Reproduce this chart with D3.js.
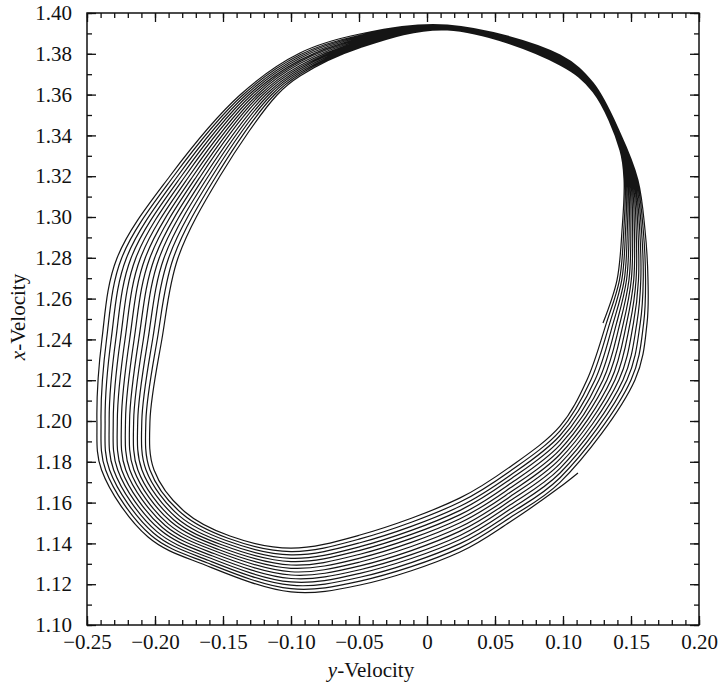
<!DOCTYPE html>
<html>
<head>
<meta charset="utf-8">
<script src="https://cdn.jsdelivr.net/npm/d3@7"></script>
<style>
  html, body { margin: 0; padding: 0; background: #fff; }
  svg { display: block; }
  text { font-family: "Liberation Serif", "Times New Roman", serif; fill: #111; }
</style>
</head>
<body>
<svg id="chart" width="722" height="688"></svg>
<script>
// ---------- axis ticks ----------
const xTickValues = [-0.25, -0.20, -0.15, -0.10, -0.05, 0, 0.05, 0.10, 0.15, 0.20];
const xTickLabels = ["\u22120.25", "\u22120.20", "\u22120.15", "\u22120.10", "\u22120.05", "0", "0.05", "0.10", "0.15", "0.20"];
const yTickValues = [1.10, 1.12, 1.14, 1.16, 1.18, 1.20, 1.22, 1.24, 1.26, 1.28, 1.30, 1.32, 1.34, 1.36, 1.38, 1.40];
const yTickLabels = ["1.10", "1.12", "1.14", "1.16", "1.18", "1.20", "1.22", "1.24", "1.26", "1.28", "1.30", "1.32", "1.34", "1.36", "1.38", "1.40"];

// ---------- trajectory readings ----------
// Each array lists where successive passes of the orbit cross a fixed cut,
// innermost pass first. "yv" = y-velocity (horizontal), "xv" = x-velocity (vertical).

// Upper / left / lower part of the orbit (passes 1..14)
const xvTop        = [1.3917, 1.3919, 1.3921, 1.3923, 1.3924, 1.3926, 1.3928, 1.3930, 1.3932, 1.3934, 1.3935, 1.3937, 1.3939, 1.3941]; // yv = 0.015
const xvTopLeftA   = [1.3830, 1.3835, 1.3840, 1.3845, 1.3850, 1.3855, 1.3860, 1.3865, 1.3870, 1.3876, 1.3881, 1.3886, 1.3891, 1.3897]; // yv = -0.0493
const xvTopLeftB   = [1.3691, 1.3700, 1.3708, 1.3717, 1.3726, 1.3734, 1.3743, 1.3752, 1.3761, 1.3769, 1.3778, 1.3787, 1.3795, 1.3804]; // yv = -0.0934
const yvUpperLeftA = [-0.1103, -0.1124, -0.1145, -0.1166, -0.1187, -0.1208, -0.1229, -0.1249, -0.1270, -0.1291, -0.1312, -0.1333, -0.1354, -0.1375]; // xv = 1.3598
const yvUpperLeftB = [-0.1522, -0.1550, -0.1579, -0.1607, -0.1635, -0.1664, -0.1692, -0.1720, -0.1748, -0.1777, -0.1805, -0.1833, -0.1862, -0.1890]; // xv = 1.3201
const yvLeftA      = [-0.1831, -0.1865, -0.1900, -0.1934, -0.1969, -0.2003, -0.2038, -0.2072, -0.2107, -0.2141, -0.2176, -0.2210, -0.2245, -0.2279]; // xv = 1.2799
const yvLeftB      = [-0.1949, -0.1983, -0.2017, -0.2051, -0.2085, -0.2119, -0.2153, -0.2186, -0.2220, -0.2254, -0.2288, -0.2322, -0.2356, -0.2390]; // xv = 1.2402
const yvLeftC      = [-0.2037, -0.2067, -0.2097, -0.2127, -0.2157, -0.2187, -0.2217, -0.2247, -0.2277, -0.2307, -0.2337, -0.2367, -0.2397, -0.2427]; // xv = 1.2000
const yvLowerLeft  = [-0.2007, -0.2037, -0.2066, -0.2096, -0.2126, -0.2155, -0.2185, -0.2215, -0.2245, -0.2274, -0.2304, -0.2334, -0.2363, -0.2393]; // xv = 1.1760
const cornerYv     = [-0.1779, -0.1800, -0.1821, -0.1842, -0.1863, -0.1884, -0.1905, -0.1925, -0.1946, -0.1967, -0.1988, -0.2009, -0.2030, -0.2051];
const cornerXv     = [1.1554, 1.1545, 1.1535, 1.1526, 1.1516, 1.1507, 1.1497, 1.1488, 1.1478, 1.1469, 1.1459, 1.1450, 1.1440, 1.1431];
const corner2Yv    = [-0.1449, -0.1463, -0.1477, -0.1491, -0.1505, -0.1519, -0.1533, -0.1548, -0.1562, -0.1576, -0.1590, -0.1604, -0.1618, -0.1632];
const corner2Xv    = [1.1436, 1.1425, 1.1414, 1.1403, 1.1392, 1.1381, 1.1370, 1.1360, 1.1349, 1.1338, 1.1327, 1.1316, 1.1305, 1.1294];
const xvBottomA    = [1.1377, 1.1360, 1.1344, 1.1327, 1.1311, 1.1294, 1.1278, 1.1261, 1.1245, 1.1228, 1.1211, 1.1195, 1.1178, 1.1162]; // yv = -0.10
const xvBottomB    = [1.1441, 1.1422, 1.1403, 1.1384, 1.1366, 1.1347, 1.1328, 1.1309, 1.1290, 1.1271, 1.1253, 1.1234, 1.1215, 1.1196]; // yv = -0.0493
const xvBottomC    = [1.1623, 1.1603, 1.1582, 1.1562, 1.1541, 1.1521, 1.1501, 1.1480, 1.1460, 1.1439, 1.1419, 1.1399, 1.1378, 1.1358]; // yv = 0.0243
const xvBottomD    = [1.1775, 1.1754, 1.1733, 1.1713, 1.1692, 1.1671, 1.1650, 1.1629, 1.1609, 1.1588, 1.1567, 1.1546, 1.1526, 1.1505]; // yv = 0.0610
const xvBottomE    = [1.1975, 1.1952, 1.1929, 1.1906, 1.1883, 1.1860, 1.1837, 1.1814, 1.1791, 1.1768, 1.1745, 1.1722, 1.1699, 1.1676]; // yv = 0.0978
const orbitEnd     = [0.1110, 1.1745];

// Right part of the orbit (passes 0..13; the first cut only has passes 1..13)
const yvRightA      = [0.1176, 0.1205, 0.1235, 0.1264, 0.1294, 0.1323, 0.1353, 0.1382, 0.1411, 0.1441, 0.1470, 0.1500, 0.1529]; // xv = 1.2201
const yvRightB      = [0.1294, 0.1319, 0.1344, 0.1369, 0.1394, 0.1419, 0.1444, 0.1468, 0.1493, 0.1518, 0.1543, 0.1568, 0.1593, 0.1618]; // xv = 1.2480
const yvRightC      = [0.1397, 0.1415, 0.1432, 0.1450, 0.1467, 0.1485, 0.1502, 0.1520, 0.1537, 0.1555, 0.1572, 0.1590, 0.1607, 0.1625]; // xv = 1.2691
const yvRightD      = [0.1434, 0.1447, 0.1460, 0.1473, 0.1486, 0.1499, 0.1512, 0.1525, 0.1538, 0.1551, 0.1564, 0.1577, 0.1590, 0.1603]; // xv = 1.2936
const yvRightE      = [0.1449, 0.1457, 0.1465, 0.1473, 0.1480, 0.1488, 0.1496, 0.1504, 0.1512, 0.1520, 0.1527, 0.1535, 0.1543, 0.1551]; // xv = 1.3181
const xvUpperRightA = [1.3328, 1.3334, 1.3341, 1.3347, 1.3354, 1.3360, 1.3367, 1.3373, 1.3380, 1.3386, 1.3393, 1.3399, 1.3406, 1.3412]; // yv = 0.1419
const xvUpperRightB = [1.3613, 1.3616, 1.3620, 1.3623, 1.3627, 1.3630, 1.3633, 1.3637, 1.3640, 1.3643, 1.3647, 1.3650, 1.3654, 1.3657]; // yv = 0.1221
const xvUpperRightC = [1.3745, 1.3749, 1.3753, 1.3756, 1.3760, 1.3764, 1.3768, 1.3771, 1.3775, 1.3779, 1.3783, 1.3786, 1.3790, 1.3794]; // yv = 0.0978

// Cuts in the order the orbit visits them (counter-clockwise on the page)
const headCuts = [
  { yv: 0.015,   xv: xvTop },
  { yv: -0.0493, xv: xvTopLeftA },
  { yv: -0.0934, xv: xvTopLeftB },
  { yv: yvUpperLeftA, xv: 1.3598 },
  { yv: yvUpperLeftB, xv: 1.3201 },
  { yv: yvLeftA, xv: 1.2799 },
  { yv: yvLeftB, xv: 1.2402 },
  { yv: yvLeftC, xv: 1.2000 },
  { yv: yvLowerLeft, xv: 1.1760 },
  { yv: cornerYv, xv: cornerXv },
  { yv: corner2Yv, xv: corner2Xv },
  { yv: -0.10,   xv: xvBottomA },
  { yv: -0.0493, xv: xvBottomB },
  { yv: 0.0243,  xv: xvBottomC },
  { yv: 0.0610,  xv: xvBottomD },
  { yv: 0.0978,  xv: xvBottomE }
];
const rightEntryCut = { yv: yvRightA, xv: 1.2201 };
const tailCuts = [
  { yv: yvRightB, xv: 1.2480 },
  { yv: yvRightC, xv: 1.2691 },
  { yv: yvRightD, xv: 1.2936 },
  { yv: yvRightE, xv: 1.3181 },
  { yv: 0.1419, xv: xvUpperRightA },
  { yv: 0.1221, xv: xvUpperRightB },
  { yv: 0.0978, xv: xvUpperRightC }
];
const passCount = 14;

// ---------- layout ----------
const svg = d3.select("#chart");
const frame = { left: 87, right: 699, top: 13, bottom: 625 };

const x = d3.scaleLinear().domain([-0.25, 0.20]).range([frame.left, frame.right]);
const y = d3.scaleLinear().domain([1.10, 1.40]).range([frame.bottom, frame.top]);

// ---------- orbit ----------
const pick = (v, i) => Array.isArray(v) ? v[i] : v;
const orbit = [];
const addCut = (cut, i) => orbit.push([pick(cut.yv, i), pick(cut.xv, i)]);

tailCuts.forEach(c => addCut(c, 0));
for (let p = 1; p <= passCount; p++) {
  headCuts.forEach(c => addCut(c, p - 1));
  if (p === passCount) { orbit.push(orbitEnd); break; }
  addCut(rightEntryCut, p - 1);
  tailCuts.forEach(c => addCut(c, p));
}

const line = d3.line()
  .x(d => x(d[0]))
  .y(d => y(d[1]))
  .curve(d3.curveCatmullRom.alpha(0.5));

svg.append("path")
  .datum(orbit)
  .attr("fill", "none")
  .attr("stroke", "#151515")
  .attr("stroke-width", 1.2)
  .attr("stroke-linejoin", "round")
  .attr("d", line);

// ---------- axes (ticks point inwards on all four sides) ----------
const xMinor = x.ticks(45);
const yMinor = y.ticks(30);
const major = 9, minor = 5;

function styleAxis(g) {
  g.select(".domain").remove();
  g.selectAll(".tick line").attr("stroke", "#111").attr("stroke-width", 1.3);
  g.selectAll(".tick text").style("font-size", "21px").attr("fill", "#111");
}

// bottom
svg.append("g").attr("transform", `translate(0,${frame.bottom})`)
  .call(d3.axisBottom(x).tickValues(xMinor).tickSize(-minor).tickFormat(""))
  .call(styleAxis);
svg.append("g").attr("transform", `translate(0,${frame.bottom})`)
  .call(d3.axisBottom(x).tickValues(xTickValues).tickSize(-major).tickPadding(9)
    .tickFormat((d, i) => xTickLabels[i]))
  .call(styleAxis);
// top
svg.append("g").attr("transform", `translate(0,${frame.top})`)
  .call(d3.axisTop(x).tickValues(xMinor).tickSize(-minor).tickFormat(""))
  .call(styleAxis);
svg.append("g").attr("transform", `translate(0,${frame.top})`)
  .call(d3.axisTop(x).tickValues(xTickValues).tickSize(-major).tickFormat(""))
  .call(styleAxis);
// left
svg.append("g").attr("transform", `translate(${frame.left},0)`)
  .call(d3.axisLeft(y).tickValues(yMinor).tickSize(-minor).tickFormat(""))
  .call(styleAxis);
svg.append("g").attr("transform", `translate(${frame.left},0)`)
  .call(d3.axisLeft(y).tickValues(yTickValues).tickSize(-major).tickPadding(15)
    .tickFormat((d, i) => yTickLabels[i]))
  .call(styleAxis);
// right
svg.append("g").attr("transform", `translate(${frame.right},0)`)
  .call(d3.axisRight(y).tickValues(yMinor).tickSize(-minor).tickFormat(""))
  .call(styleAxis);
svg.append("g").attr("transform", `translate(${frame.right},0)`)
  .call(d3.axisRight(y).tickValues(yTickValues).tickSize(-major).tickFormat(""))
  .call(styleAxis);

// frame
svg.append("rect")
  .attr("x", frame.left).attr("y", frame.top)
  .attr("width", frame.right - frame.left).attr("height", frame.bottom - frame.top)
  .attr("fill", "none").attr("stroke", "#111").attr("stroke-width", 1.5);

// ---------- axis titles ----------
const xTitle = svg.append("text")
  .attr("x", 371).attr("y", 677)
  .attr("text-anchor", "middle")
  .style("font-size", "21px");
xTitle.append("tspan").style("font-style", "italic").text("y");
xTitle.append("tspan").text("-Velocity");

const yTitle = svg.append("text")
  .attr("transform", "translate(25,317) rotate(-90)")
  .attr("text-anchor", "middle")
  .style("font-size", "21px");
yTitle.append("tspan").style("font-style", "italic").text("x");
yTitle.append("tspan").text("-Velocity");
</script>
</body>
</html>
